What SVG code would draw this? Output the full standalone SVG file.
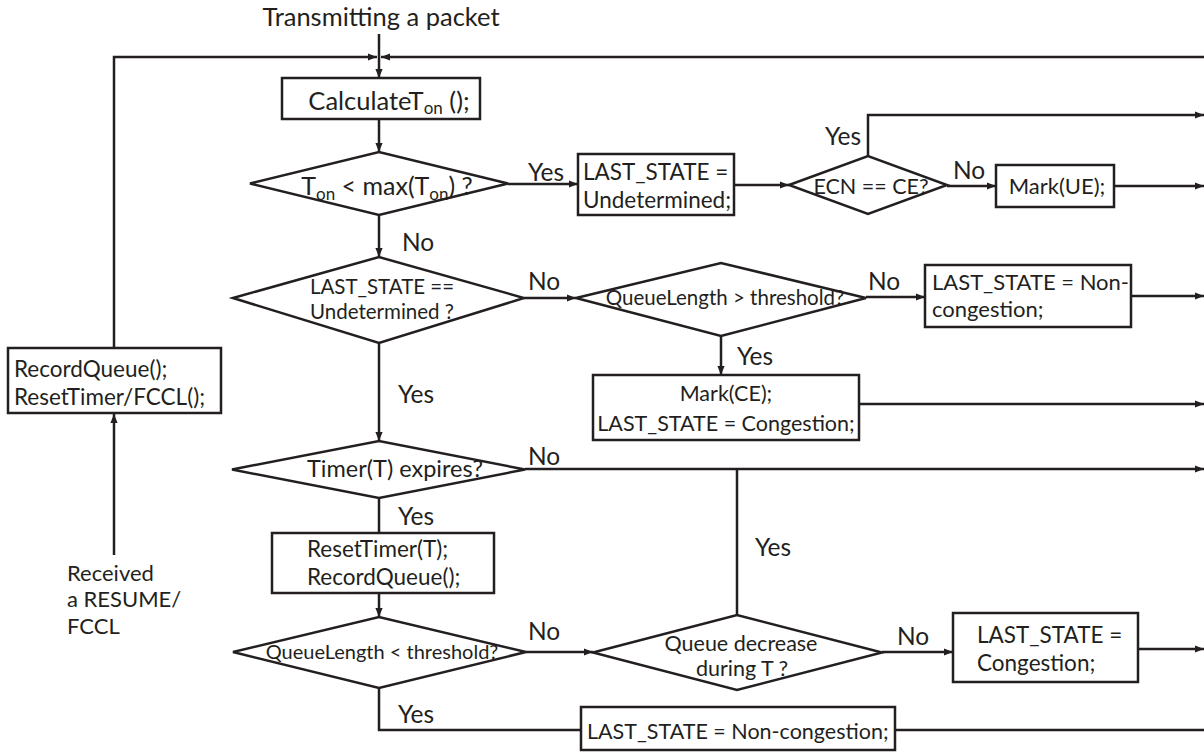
<svg xmlns="http://www.w3.org/2000/svg" width="1204" height="753" viewBox="0 0 1204 753">
<style>
.s{fill:#fff;stroke:#231f20;stroke-width:2.5}
.c{fill:none;stroke:#231f20;stroke-width:2.5}
text{font-family:Lato,"Liberation Sans",sans-serif;fill:#231f20;font-size:22px}
.m{text-anchor:middle}
.l{font-size:24.5px}
.d{font-size:20.5px}
.b{font-size:22.5px}
</style>
<defs>
<marker id="a" viewBox="0 0 10 10" refX="10" refY="5" markerWidth="3.6" markerHeight="3.6" orient="auto"><path d="M0,1 L10,5 L0,9 z" fill="#231f20"/></marker>
</defs>
<g id="connectors">
<line class="c" x1="379" y1="34" x2="379" y2="78" marker-end="url(#a)"/>
<polyline class="c" points="114,348 114,57 377,57" marker-end="url(#a)"/>
<line class="c" x1="1204" y1="57" x2="381" y2="57" marker-end="url(#a)"/>
<line class="c" x1="114" y1="555" x2="114" y2="414" marker-end="url(#a)"/>
<line class="c" x1="379" y1="119" x2="379" y2="152" marker-end="url(#a)"/>
<line class="c" x1="508" y1="184" x2="578" y2="184" marker-end="url(#a)"/>
<line class="c" x1="734" y1="185" x2="789" y2="185" marker-end="url(#a)"/>
<polyline class="c" points="868,156 868,115 1204,115" marker-end="url(#a)"/>
<line class="c" x1="947" y1="186" x2="996" y2="186" marker-end="url(#a)"/>
<line class="c" x1="1114" y1="186" x2="1204" y2="186" marker-end="url(#a)"/>
<line class="c" x1="379" y1="215" x2="379" y2="257" marker-end="url(#a)"/>
<line class="c" x1="524" y1="298" x2="576" y2="298" marker-end="url(#a)"/>
<line class="c" x1="866" y1="297" x2="925" y2="297" marker-end="url(#a)"/>
<line class="c" x1="1131" y1="296" x2="1204" y2="296" marker-end="url(#a)"/>
<line class="c" x1="721" y1="336" x2="721" y2="375" marker-end="url(#a)"/>
<line class="c" x1="859" y1="404" x2="1204" y2="404" marker-end="url(#a)"/>
<line class="c" x1="379" y1="343" x2="379" y2="441" marker-end="url(#a)"/>
<line class="c" x1="525" y1="469" x2="1204" y2="469" marker-end="url(#a)"/>
<line class="c" x1="737" y1="615" x2="737" y2="469"/>
<line class="c" x1="379" y1="498" x2="379" y2="533"/>
<line class="c" x1="379" y1="593" x2="379" y2="617" marker-end="url(#a)"/>
<line class="c" x1="526" y1="652" x2="593" y2="652" marker-end="url(#a)"/>
<line class="c" x1="882" y1="652" x2="953" y2="652" marker-end="url(#a)"/>
<line class="c" x1="1138" y1="649" x2="1204" y2="649" marker-end="url(#a)"/>
<polyline class="c" points="379,688 379,730 581,730"/>
<line class="c" x1="895" y1="730" x2="1204" y2="730"/>
</g>
<g id="labels">
<text class="m" x="381" y="26" style="font-size:25.5px">Transmitting a packet</text>
<text class="l" x="528" y="181">Yes</text>
<text class="l" x="825" y="145">Yes</text>
<text class="l" x="953" y="179">No</text>
<text class="l" x="402" y="251">No</text>
<text class="l" x="528" y="290">No</text>
<text class="l" x="868" y="290">No</text>
<text class="l" x="737" y="365">Yes</text>
<text class="l" x="398" y="403">Yes</text>
<text class="l" x="528" y="465">No</text>
<text class="l" x="398" y="525">Yes</text>
<text class="l" x="755" y="556">Yes</text>
<text class="l" x="528" y="640">No</text>
<text class="l" x="897" y="645">No</text>
<text class="l" x="398" y="723">Yes</text>
<text x="67" y="581">Received</text>
<text x="67" y="607">a RESUME/</text>
<text x="67" y="634">FCCL</text>
</g>
<g id="calc">
<rect class="s" x="282" y="78" width="198" height="41"/>
<text class="m" x="389" y="110" style="font-size:25.5px">CalculateT<tspan font-size="17" dy="4">on</tspan><tspan dy="-4"> ();</tspan></text>
</g>
<g id="d1">
<polygon class="s" points="250,183.5 379,152 508,183.5 379,215"/>
<text class="m" x="387" y="195" style="font-size:25px">T<tspan font-size="17" dy="5">on</tspan><tspan dy="-5"> &lt; max(T</tspan><tspan font-size="17" dy="5">on</tspan><tspan dy="-5">) ?</tspan></text>
</g>
<g id="undet">
<rect class="s" x="578" y="154" width="156" height="61"/>
<text class="b" x="583" y="180">LAST_STATE =</text>
<text class="b" x="583" y="208">Undetermined;</text>
</g>
<g id="ecn">
<polygon class="s" points="789,185 868,156 947,185 868,214"/>
<text class="m" x="871" y="194" style="font-size:21.5px">ECN == CE?</text>
</g>
<g id="markue">
<rect class="s" x="996" y="165" width="118" height="42"/>
<text class="m" x="1057" y="194">Mark(UE);</text>
</g>
<g id="d2">
<polygon class="s" points="233,298 379,257 524,298 379,343"/>
<text class="m d" x="382" y="294">LAST_STATE ==</text>
<text class="m d" x="382" y="319">Undetermined ?</text>
</g>
<g id="d3">
<polygon class="s" points="576,298 721,263 866,298 721,336"/>
<text class="m d" x="725" y="305">QueueLength &gt; threshold?</text>
</g>
<g id="noncong1">
<rect class="s" x="925" y="265" width="206" height="62"/>
<text x="932" y="290">LAST_STATE = Non-</text>
<text x="932" y="317">congestion;</text>
</g>
<g id="markce">
<rect class="s" x="593" y="375" width="266" height="65"/>
<text class="m" x="726" y="401" style="font-size:21.5px">Mark(CE);</text>
<text class="m" x="726" y="431" style="font-size:21.5px">LAST_STATE = Congestion;</text>
</g>
<g id="record">
<rect class="s" x="8" y="348" width="213" height="65"/>
<text x="14" y="377" style="font-size:22.5px">RecordQueue();</text>
<text x="14" y="405" style="font-size:22.5px">ResetTimer/FCCL();</text>
</g>
<g id="d4">
<polygon class="s" points="232,469.5 379,441 525,469.5 379,498"/>
<text class="m" x="395" y="477" style="font-size:23.5px">Timer(T) expires?</text>
</g>
<g id="reset">
<rect class="s" x="272" y="533" width="222" height="60"/>
<text class="b" x="307" y="557">ResetTimer(T);</text>
<text class="b" x="307" y="585">RecordQueue();</text>
</g>
<g id="d5">
<polygon class="s" points="233,652 379,617 526,652 379,688"/>
<text class="m" x="382" y="659" style="font-size:20px">QueueLength &lt; threshold?</text>
</g>
<g id="d6">
<polygon class="s" points="593,652.5 737,615 882,652.5 737,690"/>
<text class="m" x="741" y="651" style="font-size:21.5px">Queue decrease</text>
<text class="m" x="742" y="676" style="font-size:21.5px">during  T ?</text>
</g>
<g id="cong">
<rect class="s" x="953" y="613" width="185" height="69"/>
<text class="b" x="977" y="643">LAST_STATE =</text>
<text class="b" x="977" y="671">Congestion;</text>
</g>
<g id="noncong2">
<rect class="s" x="581" y="707" width="314" height="43"/>
<text x="587" y="739" style="font-size:21.5px">LAST_STATE = Non-congestion;</text>
</g>
</svg>
